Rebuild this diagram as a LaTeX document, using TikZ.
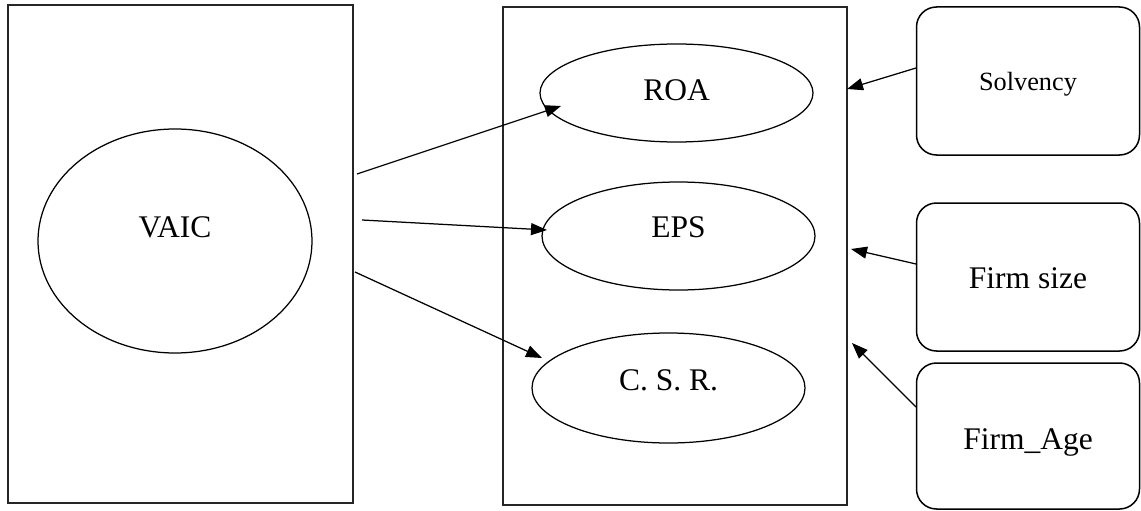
\documentclass[tikz,border=0pt]{standalone}
\usepackage{fontspec}
\setmainfont{Liberation Serif}
\usetikzlibrary{shapes.geometric,arrows.meta}
\begin{document}
\begin{tikzpicture}[x=1pt,y=-1pt,
  frame/.style={draw=black!85, line width=1.4pt, rectangle, inner sep=0pt},
  oval/.style={draw, ellipse, line width=1.25pt, inner sep=0pt, font=\fontsize{31.5}{36}\selectfont, text height=22pt},
  ctrl/.style={draw, rectangle, rounded corners=20pt, line width=1.5pt, minimum width=223pt, inner sep=0pt, text depth=0pt},
  big/.style={font=\fontsize{31.5}{36}\selectfont},
  arr/.style={-{Triangle[length=16pt,width=12pt]}, line width=1.25pt}]
\useasboundingbox (0,0) rectangle (1141,511);
% frames
\node[frame, minimum width=345pt, minimum height=498pt] (left) at (180.5,254) {};
\node[frame, minimum width=344pt, minimum height=498pt] (mid) at (675,256) {};
% ellipses
\node[oval, minimum width=274pt, minimum height=224pt, text depth=30pt] (vaic) at (175,241) {VAIC};
\node[oval, minimum width=273pt, minimum height=98pt, text depth=8pt] (roa) at (676.5,93) {ROA};
\node[oval, minimum width=273pt, minimum height=108pt, text depth=20pt] (eps) at (678.5,236) {EPS};
\node[oval, minimum width=273pt, minimum height=110pt, text depth=18pt] (csr) at (668.5,388) {C. S. R.};
% control boxes
\node[ctrl, minimum height=148pt, text height=20pt, font=\fontsize{26.3}{30}\selectfont] (solv) at (1028,81) {Solvency};
\node[ctrl, big, minimum height=148pt, text height=22pt] (size) at (1028,277) {Firm size};
\node[ctrl, big, minimum height=146pt, text height=26pt] (age) at (1028,436) {Firm\_Age};
% connector ends
\coordinate (s1) at (357,174); \coordinate (e1) at (561,106);
\coordinate (s2) at (362,220); \coordinate (e2) at (547,230);
\coordinate (s3) at (355,272); \coordinate (e3) at (542,358);
\coordinate (r1) at (847,89);  \coordinate (r2) at (851,249); \coordinate (r3) at (852,343);
\coordinate (q1) at (916,68);  \coordinate (q2) at (916,264); \coordinate (q3) at (916,407);
\draw[arr] (s1) -- (e1);
\draw[arr] (s2) -- (e2);
\draw[arr] (s3) -- (e3);
\draw[arr] (q1) -- (r1);
\draw[arr] (q2) -- (r2);
\draw[arr] (q3) -- (r3);
\end{tikzpicture}
\end{document}
